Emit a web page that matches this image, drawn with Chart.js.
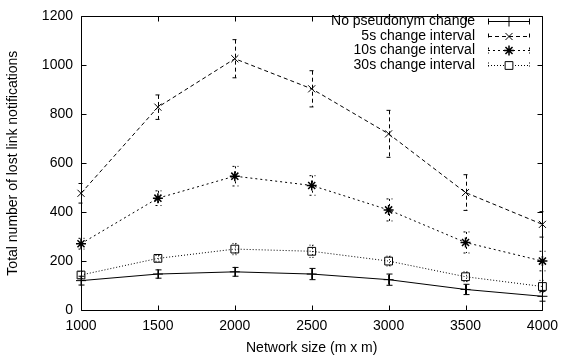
<!DOCTYPE html>
<html><head><meta charset="utf-8">
<script src="https://cdn.jsdelivr.net/npm/chart.js@4/dist/chart.umd.min.js"></script>
<style>html,body{margin:0;padding:0;background:#fff}</style>
</head><body>
<canvas id="c" width="566" height="357"></canvas>
<script>
const networkSizes = [1000, 1500, 2000, 2500, 3000, 3500, 4000];
const seriesLabels = ['No pseudonym change', '5s change interval', '10s change interval', '30s change interval'];
const noChange    = [120, 147, 156, 147, 124, 84, 56];
const noChangeErr = [18, 17, 18, 23, 23, 21, 20];
const s5          = [477, 829, 1027, 904, 720, 480, 350];
const s5Err       = [40, 50, 78, 74, 96, 73, 52];
const s10         = [271, 457, 547, 509, 409, 276, 200];
const s10Err      = [22, 30, 40, 40, 45, 43, 40];
const s30         = [143, 211, 249, 240, 200, 136, 96];
const s30Err      = [14, 12, 23, 25, 20, 20, 25];
const xTicks = [1000, 1500, 2000, 2500, 3000, 3500, 4000];
const yTicks = [0, 200, 400, 600, 800, 1000, 1200];

const FONT = "'Liberation Sans', Arial, Helvetica, sans-serif";
const values = [noChange, s5, s10, s30];
const errors = [noChangeErr, s5Err, s10Err, s30Err];
const dashes = [[], [4, 3], [2, 3], [1, 2]];
const styles = ['cross', 'crossRot', 'star', 'rect'];
const radii = [5, 5, 5, 5.5];

const datasets = values.map((v, i) => ({
  label: seriesLabels[i],
  data: v.map((y, j) => ({x: networkSizes[j], y: y})),
  errs: errors[i],
  borderColor: '#000',
  backgroundColor: 'rgba(0,0,0,0)',
  borderWidth: 1,
  borderDash: dashes[i],
  pointStyle: styles[i],
  pointRadius: radii[i],
  pointBorderColor: '#000',
  pointBackgroundColor: 'rgba(0,0,0,0)',
  pointBorderWidth: i === 2 ? 1.5 : 1,
  tension: 0,
  fill: false,
  clip: false
}));

const gnuplotLook = {
  id: 'gnuplotLook',
  beforeDatasetsDraw(chart) {
    const ctx = chart.ctx, xs = chart.scales.x, ys = chart.scales.y;
    ctx.save();
    ctx.strokeStyle = '#000';
    ctx.lineWidth = 1;
    chart.data.datasets.forEach((ds, i) => {
      ctx.setLineDash(ds.borderDash);
      ds.data.forEach((p, j) => {
        const e = ds.errs[j];
        const px = Math.round(xs.getPixelForValue(p.x)) + 0.5;
        const y1 = ys.getPixelForValue(p.y + e), y2 = ys.getPixelForValue(p.y - e);
        ctx.beginPath();
        ctx.moveTo(px, y1); ctx.lineTo(px, y2);
        ctx.moveTo(px - 3, y1); ctx.lineTo(px + 3, y1);
        ctx.moveTo(px - 3, y2); ctx.lineTo(px + 3, y2);
        ctx.stroke();
      });
    });
    ctx.restore();
  },
  afterDraw(chart) {
    const ctx = chart.ctx, a = chart.chartArea, xs = chart.scales.x, ys = chart.scales.y;
    ctx.save();
    ctx.strokeStyle = '#000';
    ctx.lineWidth = 1;
    ctx.setLineDash([]);
    const L = Math.round(a.left) + 0.5, R = Math.round(a.right) + 0.5, T = Math.round(a.top) + 0.5, B = Math.round(a.bottom) + 0.5;
    ctx.beginPath();
    ctx.rect(L, T, R - L, B - T);
    xTicks.forEach(v => {
      const px = Math.round(xs.getPixelForValue(v)) + 0.5;
      ctx.moveTo(px, B); ctx.lineTo(px, B - 5);
      ctx.moveTo(px, T); ctx.lineTo(px, T + 5);
    });
    yTicks.forEach(v => {
      const py = Math.round(ys.getPixelForValue(v)) + 0.5;
      ctx.moveTo(L, py); ctx.lineTo(L + 5, py);
      ctx.moveTo(R, py); ctx.lineTo(R - 5, py);
    });
    ctx.stroke();

    // legend
    ctx.font = '14px ' + FONT;
    ctx.fillStyle = '#000';
    ctx.textAlign = 'right';
    ctx.textBaseline = 'middle';
    chart.data.datasets.forEach((ds, i) => {
      const y = Math.round(21 + i * 14.7) + 0.5;
      ctx.setLineDash([]);
      ctx.fillStyle = '#000';
      ctx.fillText(ds.label, 475, y);
      ctx.setLineDash(ds.borderDash);
      ctx.beginPath();
      ctx.moveTo(488, y); ctx.lineTo(530, y);
      ctx.moveTo(488.5, y - 3); ctx.lineTo(488.5, y + 3);
      ctx.moveTo(529.5, y - 3); ctx.lineTo(529.5, y + 3);
      ctx.stroke();
      ctx.setLineDash([]);
      ctx.fillStyle = '#fff';
      ctx.lineWidth = ds.pointBorderWidth;
      Chart.helpers.drawPoint(ctx, {
        pointStyle: ds.pointStyle, radius: ds.pointRadius, rotation: 0,
        borderWidth: ds.pointBorderWidth
      }, 509, y);
      ctx.lineWidth = 1;
    });
    ctx.restore();
  }
};

new Chart(document.getElementById('c'), {
  type: 'line',
  data: {datasets: datasets},
  options: {
    responsive: false,
    devicePixelRatio: 1,
    animation: false,
    layout: {padding: {top: 10, right: 19, left: 0, bottom: 0}},
    plugins: {legend: {display: false}, tooltip: {enabled: false}},
    scales: {
      x: {
        type: 'linear', min: 1000, max: 4000,
        afterBuildTicks: s => { s.ticks = xTicks.map(v => ({value: v})); },
        afterFit: s => { s.height = 47; },
        grid: {display: false, drawTicks: false},
        border: {display: false},
        ticks: {color: '#000', font: {family: FONT, size: 14}, padding: 8, maxRotation: 0, callback: v => String(v)},
        title: {display: true, text: 'Network size (m x m)', color: '#000', font: {family: FONT, size: 14}, padding: {top: 0, bottom: 0}}
      },
      y: {
        type: 'linear', min: 0, max: 1200,
        afterBuildTicks: s => { s.ticks = yTicks.map(v => ({value: v})); },
        afterFit: s => { s.width = 81; },
        grid: {display: false, drawTicks: false},
        border: {display: false},
        ticks: {color: '#000', font: {family: FONT, size: 14}, padding: 8, callback: v => String(v)},
        title: {display: true, text: 'Total number of lost link notifications', color: '#000', font: {family: FONT, size: 14}, padding: {top: 5, bottom: 0}}
      }
    }
  },
  plugins: [gnuplotLook]
});
</script>
</body></html>
